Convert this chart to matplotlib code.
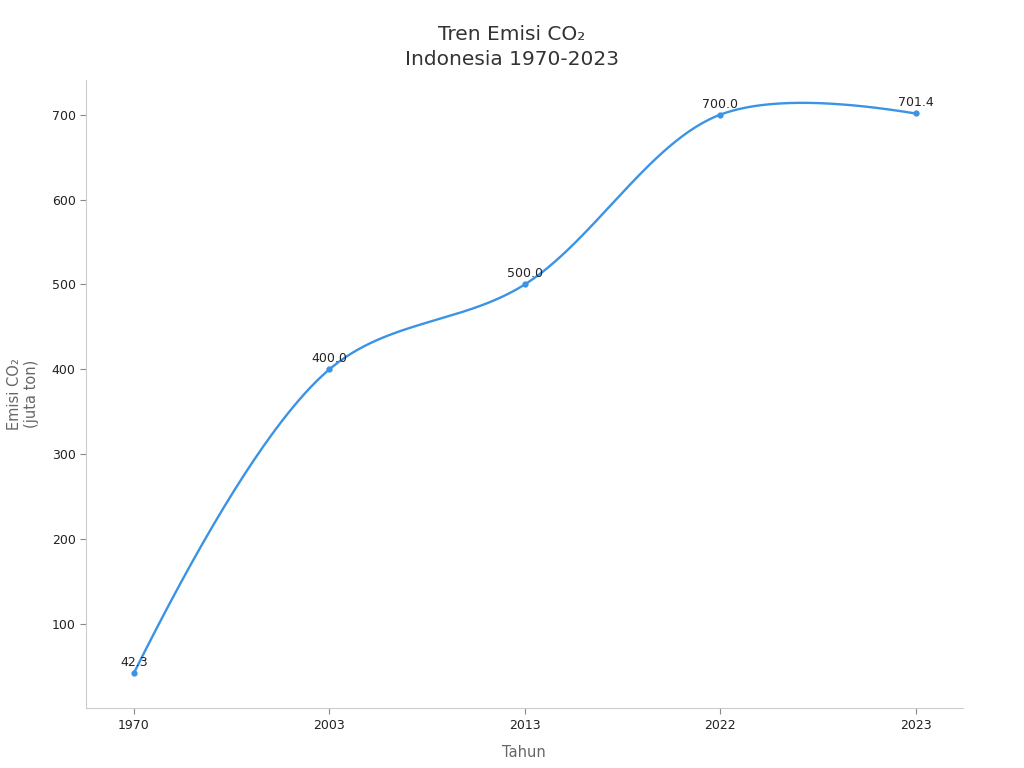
import numpy as np
import matplotlib
matplotlib.use("Agg")
import matplotlib.pyplot as plt

# data
years = ["1970", "2003", "2013", "2022", "2023"]
emisi = [42.3, 400.0, 500.0, 700.0, 701.4]


def bezier(p0, ctrl, p1, num=60):
    # quadratic (one ctrl) or cubic (two ctrl) bezier, sampled
    t = np.linspace(0, 1, num)[:, None]
    if len(ctrl) == 1:
        c = ctrl[0]
        return (1 - t) ** 2 * p0 + 2 * t * (1 - t) * c + t ** 2 * p1
    c1, c2 = ctrl
    return ((1 - t) ** 3 * p0 + 3 * t * (1 - t) ** 2 * c1
            + 3 * t ** 2 * (1 - t) * c2 + t ** 3 * p1)


def smooth_line(ax, x, y, smoothness=1.0):
    # centripetal catmull-rom style smoothing done in pixel space
    pts = ax.transData.transform(np.column_stack([x, y]))
    tangents = []
    for i in range(1, len(pts) - 1):
        d1 = pts[i - 1] - pts[i]
        d2 = pts[i + 1] - pts[i]
        d1a = np.hypot(*d1) ** 0.5
        d2a = np.hypot(*d2) ** 0.5
        num = (d2a ** 2 * d1 - d1a ** 2 * d2) * smoothness
        den1 = 3 * d2a * (d1a + d2a)
        den2 = 3 * d1a * (d1a + d2a)
        tangents.append((pts[i] + num / den1, pts[i] - num / den2))
    segs = [bezier(pts[0], [tangents[0][0]], pts[1])]
    for i in range(2, len(pts) - 1):
        segs.append(bezier(pts[i - 1], [tangents[i - 2][1], tangents[i - 1][0]], pts[i]))
    segs.append(bezier(pts[-2], [tangents[-1][1]], pts[-1]))
    curve = np.vstack(segs)
    return ax.transData.inverted().transform(curve)


plt.rcParams['font.family'] = ['DejaVu Sans']
color = '#3a93e4'

fig = plt.figure(figsize=(10.24, 7.68), dpi=100)
ax = fig.add_axes([0.084, 0.078, 0.856, 0.818])

pos = np.arange(len(years))
ax.set_xlim(-0.245, 4.24)
ax.set_ylim(1, 741)

curve = smooth_line(ax, pos, emisi)
ax.plot(curve[:, 0], curve[:, 1], color=color, lw=1.7)
ax.plot(pos, emisi, 'o', color=color, ms=3.5)

for p, v in zip(pos, emisi):
    ax.annotate(f"{v:.1f}", (p, v), xytext=(0, 3), textcoords='offset points',
                ha='center', va='bottom', fontsize=9, color='#222222')

ax.set_xticks(pos)
ax.set_xticklabels(years)
ax.set_yticks([100, 200, 300, 400, 500, 600, 700])

for s in ['top', 'right']:
    ax.spines[s].set_visible(False)
for s in ['left', 'bottom']:
    ax.spines[s].set_color('#cccccc')
ax.tick_params(colors='#222222', labelsize=9, length=4)
ax.tick_params(axis='both', color='#888888')

ax.set_xlabel("Tahun", fontsize=10.5, color='#666666', labelpad=10)
ax.set_ylabel("Emisi CO₂\n(juta ton)", fontsize=10.5, color='#666666', labelpad=9)
fig.suptitle("Tren Emisi CO₂\nIndonesia 1970-2023", fontsize=14.5, color='#333333',
             y=0.967, linespacing=1.4)

fig.savefig("out.png", dpi=100)
